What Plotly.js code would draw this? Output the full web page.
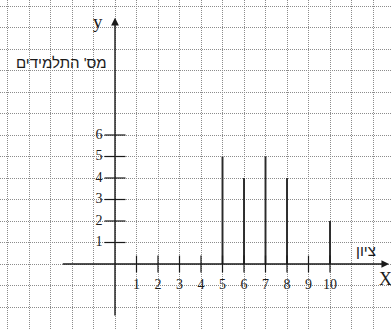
<!DOCTYPE html>
<html>
<head>
<meta charset="utf-8">
<script src="https://cdn.plot.ly/plotly-3.0.1.min.js"></script>
<style>html,body{margin:0;padding:0;background:#fff;}#chart{width:391px;height:329px;}</style>
</head>
<body>
<div id="chart"></div>
<script>
const grades = [1, 2, 3, 4, 5, 6, 7, 8, 9, 10];
const students = [0, 0, 0, 0, 5, 4, 5, 4, 0, 2];
const yTickValues = [1, 2, 3, 4, 5, 6];
const xTitle = "ציון";
const yTitle = "מס' התלמידים";

const serif = "Liberation Serif, DejaVu Serif, serif";
const ink = "#1a1a1a";

const traces = [
  {
    type: "bar", x: grades, y: students, width: 0.09,
    marker: {color: "#2a2a2a", line: {width: 0}},
    hoverinfo: "skip", showlegend: false
  },
  {
    type: "scatter", mode: "markers", x: grades, y: grades.map(() => 0),
    marker: {symbol: "line-ns-open", size: 12, color: ink, line: {width: 1.2, color: ink}},
    hoverinfo: "skip", showlegend: false
  },
  {
    type: "scatter", mode: "markers", x: yTickValues.map(() => 0), y: yTickValues,
    marker: {symbol: "line-ew-open", size: 15, color: ink, line: {width: 1.2, color: ink}},
    hoverinfo: "skip", showlegend: false
  },
  {
    type: "scatter", mode: "text", x: grades, y: grades.map(() => -0.98),
    text: grades.map(String), textposition: "middle center",
    textfont: {family: serif, size: 14, color: ink},
    hoverinfo: "skip", showlegend: false
  },
  {
    type: "scatter", mode: "text", x: yTickValues.map(() => -0.74), y: yTickValues,
    text: yTickValues.map(String), textposition: "middle center",
    textfont: {family: serif, size: 14, color: ink},
    hoverinfo: "skip", showlegend: false
  }
];

const axisCommon = {
  showticklabels: false, ticks: "", zeroline: false, showline: false,
  showgrid: true, gridcolor: "#8c8c8c", griddash: "1px,1px", gridwidth: 1,
  dtick: 1, tick0: 0, fixedrange: true
};

const layout = {
  width: 391, height: 329,
  margin: {l: 0, r: 0, t: 0, b: 0},
  paper_bgcolor: "#fff", plot_bgcolor: "#fff",
  showlegend: false,
  xaxis: Object.assign({range: [-5.349, 12.837]}, axisCommon),
  yaxis: Object.assign({range: [-3.023, 12.279]}, axisCommon),
  annotations: [
    {x: 12.75, y: 0, ax: -2.5, ay: 0, xref: "x", yref: "y", axref: "x", ayref: "y",
     showarrow: true, arrowhead: 2, arrowsize: 1.1, arrowwidth: 1.4, arrowcolor: ink, text: ""},
    {x: 0, y: 11.45, ax: 0, ay: -2.47, xref: "x", yref: "y", axref: "x", ayref: "y",
     showarrow: true, arrowhead: 2, arrowsize: 1.1, arrowwidth: 1.4, arrowcolor: ink, text: ""},
    {x: -0.79, y: 11.26, xref: "x", yref: "y", text: "y", showarrow: false,
     font: {family: serif, size: 19, color: ink}},
    {x: 12.56, y: -0.7, xref: "x", yref: "y", text: "X", showarrow: false,
     font: {family: serif, size: 18, color: ink}},
    {x: 11.67, y: 0.65, xref: "x", yref: "y", text: xTitle, showarrow: false,
     font: {family: "Liberation Sans, Arial, sans-serif", size: 15, color: ink}},
    {x: -2.47, y: 9.35, xref: "x", yref: "y", text: yTitle, showarrow: false,
     font: {family: "Liberation Sans, Arial, sans-serif", size: 15, color: ink}}
  ]
};

Plotly.newPlot("chart", traces, layout, {staticPlot: true, displayModeBar: false});
</script>
</body>
</html>
